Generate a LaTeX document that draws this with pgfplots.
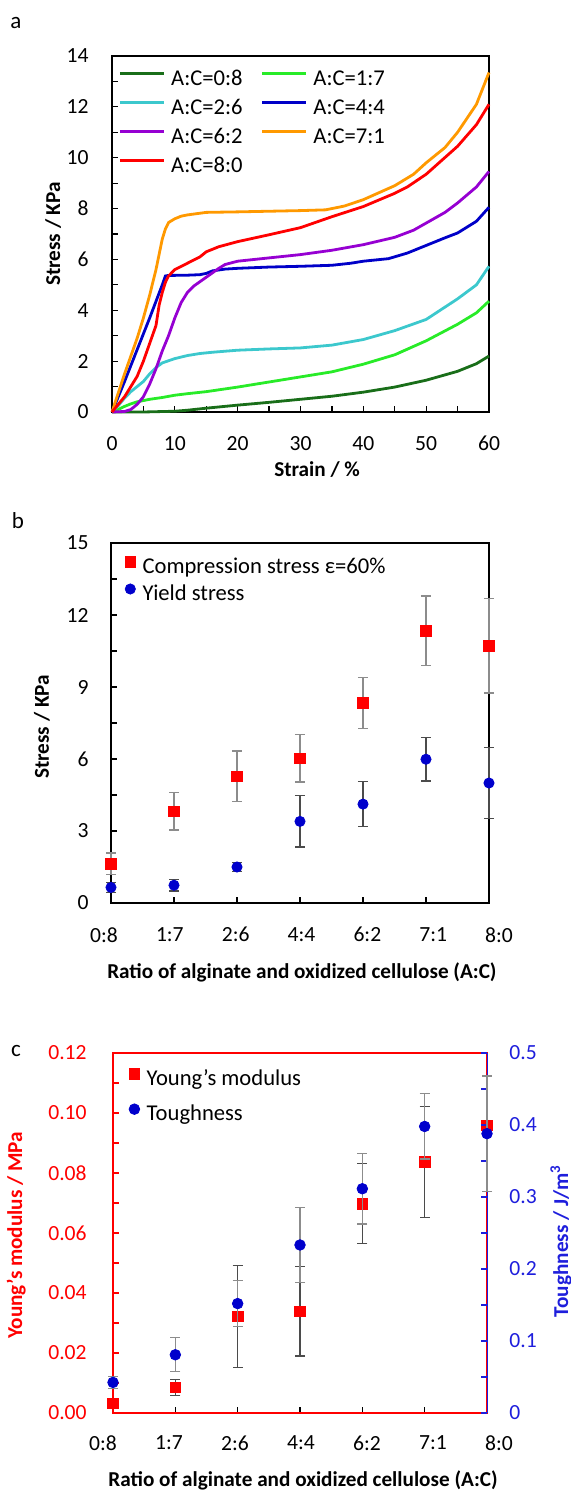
\documentclass[border=0pt]{standalone}
\usepackage{fontspec}
\setmainfont{Carlito}
\usepackage{pgfplots}
\pgfplotsset{compat=1.18}
\definecolor{cdg}{RGB}{25,110,25}
\definecolor{cg}{RGB}{40,235,40}
\definecolor{cc}{RGB}{60,200,205}
\definecolor{cb}{RGB}{0,0,200}
\definecolor{cp}{RGB}{150,0,210}
\definecolor{co}{RGB}{255,153,0}
\definecolor{cr}{RGB}{255,0,0}
\definecolor{mblue}{RGB}{0,0,204}
\definecolor{elight}{RGB}{140,140,140}
\definecolor{edark}{RGB}{75,75,75}
\definecolor{tblue}{RGB}{30,30,220}
\newcommand{\tickfont}{\fontsize{10.8}{13}\selectfont}
\newcommand{\labfont}{\fontsize{10.6}{13}\selectfont\bfseries}
\newcommand{\legfont}{\fontsize{11.3}{13.5}\selectfont}
\pgfplotsset{
  every axis/.append style={
    scale only axis, clip=false,
    /pgf/number format/assume math mode=true,
    tick label style={font=\tickfont},
    label style={font=\labfont},
    axis line style={line width=0.7pt},
    tick style={line width=0.6pt, black},
    major tick length=2.8pt, minor tick length=2.8pt,
    tick align=inside,
    xtick pos=left, ytick pos=left,
  },
}
\begin{document}
\begin{tikzpicture}
\useasboundingbox (0,0) rectangle (285.5pt,-745.5pt);
\node[font=\fontsize{11.5}{13}\selectfont] at (8pt,-11.5pt) {a};
\node[font=\fontsize{11.5}{13}\selectfont] at (9pt,-260.5pt) {b};
\node[font=\fontsize{11.5}{13}\selectfont] at (8pt,-525.5pt) {c};
% ---------------- panel a
\begin{axis}[at={(56pt,-206pt)}, anchor=south west, width=188.5pt, height=178pt,
  xmin=0, xmax=60, ymin=0, ymax=14,
  xtick={0,10,20,30,40,50,60}, ytick={0,2,4,6,8,10,12,14}, minor tick num=1,
  xticklabel style={anchor=north, inner sep=0pt, yshift=-12pt},
  yticklabel style={anchor=east, inner sep=0pt, xshift=-11.5pt},
  xlabel={Strain / \%}, ylabel={Stress / KPa},
  xlabel style={at={(axis description cs:0.544,-0.163)}, anchor=center},
  ylabel style={at={(axis description cs:-0.156,0.5)}, anchor=center},
  legend columns=2, legend cell align=left,
  legend image code/.code={\draw[#1] (0pt,3.5pt) -- (22pt,3.5pt);},
  legend style={draw=none, fill=none, at={(axis description cs:0.016,0.966)}, anchor=north west,
    font=\legfont, inner sep=0pt, row sep=2.5pt,
    nodes={inner sep=1pt, text height=7.5pt, text depth=2.5pt},
    /tikz/every odd column/.append style={column sep=2pt},
    /tikz/every even column/.append style={column sep=8pt}},
  every axis plot/.append style={line width=1.4pt},
]
\addplot[color=cdg] coordinates {(0,0) (5,0.0) (10,0.03) (12,0.07) (15,0.15) (20,0.27) (25,0.38) (30,0.5) (35,0.62) (40,0.78) (45,0.98) (50,1.25) (55,1.6) (58,1.9) (60,2.2)};
\addlegendentry{A:C=0:8}
\addplot[color=cg] coordinates {(0,0) (1,0.1) (2,0.22) (3,0.32) (4,0.4) (6,0.5) (8,0.57) (10,0.66) (12,0.72) (15,0.8) (20,0.98) (25,1.18) (30,1.38) (35,1.58) (40,1.88) (45,2.25) (50,2.8) (55,3.45) (58,3.9) (60,4.36)};
\addlegendentry{A:C=1:7}
\addplot[color=cc] coordinates {(0,0) (1,0.25) (2,0.55) (3,0.8) (4,1.0) (5,1.2) (6,1.5) (7,1.75) (8,1.93) (10,2.1) (12,2.22) (14,2.3) (16,2.35) (20,2.43) (25,2.48) (30,2.52) (35,2.63) (40,2.85) (45,3.2) (50,3.64) (55,4.45) (58,5.0) (60,5.73)};
\addlegendentry{A:C=2:6}
\addplot[color=cb] coordinates {(0,0) (2,1.2) (4,2.45) (6,3.7) (7,4.35) (8,5.0) (8.5,5.35) (9,5.37) (12,5.38) (14,5.4) (15,5.45) (16,5.55) (18,5.62) (20,5.65) (25,5.7) (30,5.73) (35,5.77) (38,5.85) (40,5.93) (44,6.03) (47,6.25) (50,6.55) (53,6.85) (55,7.04) (58,7.5) (60,8.05)};
\addlegendentry{A:C=4:4}
\addplot[color=cp] coordinates {(0,0) (2,0.02) (3,0.1) (4,0.3) (5,0.6) (6,1.1) (7,1.7) (8,2.4) (9,3.0) (10,3.7) (11,4.3) (12,4.7) (13,4.95) (15,5.3) (17,5.65) (18,5.8) (20,5.93) (25,6.06) (30,6.19) (35,6.36) (40,6.58) (45,6.87) (48,7.15) (50,7.43) (53,7.85) (55,8.22) (58,8.85) (60,9.46)};
\addlegendentry{A:C=6:2}
\addplot[color=co] coordinates {(0,0) (2,1.5) (4,2.9) (5,3.7) (6,4.6) (7,5.6) (7.5,6.2) (8,6.8) (8.5,7.2) (9,7.45) (10,7.6) (11,7.7) (12,7.75) (15,7.85) (20,7.87) (30,7.92) (34,7.95) (37,8.1) (40,8.35) (45,8.9) (48,9.35) (50,9.8) (53,10.4) (55,11.0) (58,12.1) (60,13.35)};
\addlegendentry{A:C=7:1}
\addplot[color=cr] coordinates {(0,0) (2,0.6) (3,1.0) (4,1.4) (5,2.0) (6,2.7) (7,3.4) (7.5,4.2) (8,4.7) (8.5,5.1) (9,5.35) (10,5.6) (12,5.85) (14,6.1) (15,6.3) (17,6.5) (20,6.7) (25,6.97) (30,7.25) (35,7.68) (40,8.08) (45,8.6) (47,8.85) (50,9.35) (55,10.45) (58,11.3) (60,12.1)};
\addlegendentry{A:C=8:0}
\end{axis}
% ---------------- panel b
\begin{axis}[at={(55.5pt,-451.5pt)}, anchor=south west, width=189pt, height=180pt,
  xmin=0, xmax=6, ymin=0, ymax=15,
  xtick={0,1,2,3,4,5,6}, xticklabels={0:8,1:7,2:6,4:4,6:2,7:1,8:0},
  ytick={0,3,6,9,12,15}, minor y tick num=1,
  xticklabel style={anchor=north, inner sep=0pt, yshift=-12pt, xshift=-3.5pt+1.42pt*\ticknum},
  yticklabel style={anchor=east, inner sep=0pt, xshift=-11pt},
  xlabel={Ratio of alginate and oxidized cellulose (A:C)}, ylabel={Stress / KPa},
  xlabel style={at={(axis description cs:0.505,-0.194)}, anchor=center},
  ylabel style={at={(axis description cs:-0.183,0.489)}, anchor=center},
  legend cell align=left,
  legend image code/.code={\draw[#1] plot coordinates {(0pt,3pt)};},
  legend style={draw=none, fill=none, at={(axis description cs:0.036,0.965)}, anchor=north west,
    font=\legfont, inner sep=0pt, row sep=1.5pt,
    nodes={inner sep=1pt, text height=7.5pt, text depth=2.5pt},
    /tikz/every odd column/.append style={column sep=2.5pt}},
]
\addplot[only marks, mark=square*, mark size=2.65pt, color=cr,
  error bars/.cd, y dir=both, y explicit,
  error bar style={color=elight, line width=0.6pt},
  error mark options={rotate=90, mark size=2.5pt, color=elight, line width=0.6pt}]
  table[x=x, y=y, y error=e] {
x y e
0 1.63 0.45
1 3.82 0.78
2 5.28 1.05
3 6.03 0.99
4 8.33 1.06
5 11.35 1.44
6 10.72 1.97
};
\addlegendentry{Compression stress ε=60\%}
\addplot[only marks, mark=*, mark size=2.55pt, color=mblue,
  error bars/.cd, y dir=both, y explicit,
  error bar style={color=edark, line width=0.6pt},
  error mark options={rotate=90, mark size=2.5pt, color=edark, line width=0.6pt}]
  table[x=x, y=y, y error=e] {
x y e
0 0.65 0.2
1 0.74 0.24
2 1.5 0.19
3 3.4 1.07
4 4.12 0.93
5 5.99 0.91
6 5.0 1.47
};
\addlegendentry{Yield stress}
\end{axis}
% ---------------- panel c (left axis)
\begin{axis}[at={(56.5pt,-706.5pt)}, anchor=south west, width=187pt, height=180pt,
  xmin=0, xmax=6, ymin=0, ymax=0.12,
  xtick={0,1,2,3,4,5,6}, xticklabels={0:8,1:7,2:6,4:4,6:2,7:1,8:0},
  ytick={0,0.02,0.04,0.06,0.08,0.1,0.12}, yticklabels={0.00,0.02,0.04,0.06,0.08,0.10,0.12},
  minor y tick num=1, scaled y ticks=false,
  y axis line style={draw=cr}, y tick style={color=cr},
  xticklabel style={anchor=north, inner sep=0pt, yshift=-11pt, xshift=-5pt+1.83pt*\ticknum},
  yticklabel style={anchor=east, inner sep=0pt, xshift=-13pt, text=cr},
  xlabel={Ratio of alginate and oxidized cellulose (A:C)}, ylabel={Young’s modulus / MPa},
  xlabel style={at={(axis description cs:0.508,-0.186)}, anchor=center},
  ylabel style={at={(axis description cs:-0.259,0.494)}, anchor=center, text=cr},
  legend cell align=left,
  legend image code/.code={\draw[#1] plot coordinates {(0pt,3pt)};},
  legend style={draw=none, fill=none, at={(axis description cs:0.042,0.959)}, anchor=north west,
    font=\legfont, inner sep=0pt, row sep=5.5pt,
    nodes={inner sep=1pt, text height=7.5pt, text depth=2.5pt},
    /tikz/every odd column/.append style={column sep=2.5pt}},
]
\addplot[only marks, mark=square*, mark size=2.65pt, color=cr,
  error bars/.cd, y dir=both, y explicit,
  error bar style={color=edark, line width=0.6pt},
  error mark options={rotate=90, mark size=2.5pt, color=edark, line width=0.6pt}]
  table[x=x, y=y, y error=e] {
x y e
0 0.0032 0
1 0.0085 0.0026
2 0.0322 0.017
3 0.0339 0.0149
4 0.0698 0.0133
5 0.0838 0.0185
6 0.0959 0
};
\addlegendentry{Young's modulus}
\addlegendimage{only marks, mark=*, mark size=2.65pt, color=mblue}
\addlegendentry{Toughness}
\end{axis}
% ---------------- panel c (right axis)
\begin{axis}[at={(56.5pt,-706.5pt)}, anchor=south west, width=187pt, height=180pt,
  xmin=0, xmax=6, ymin=0, ymax=0.5,
  axis x line=none, axis y line*=right, ytick pos=right, tick align=inside,
  ytick={0,0.1,0.2,0.3,0.4,0.5}, yticklabels={0,0.1,0.2,0.3,0.4,0.5},
  minor y tick num=1, scaled y ticks=false,
  y axis line style={draw=tblue, line width=0.5pt}, y tick style={color=tblue},
  yticklabel style={anchor=west, inner sep=0pt, xshift=11pt, text=tblue},
  ylabel={Toughness / J/m\textsuperscript{3}},
  ylabel style={at={(axis description cs:1.198,0.478)}, anchor=center, rotate=0, text=tblue},
]
\addplot[only marks, mark=*, mark size=2.65pt, color=mblue,
  error bars/.cd, y dir=both, y explicit,
  error bar style={color=elight, line width=0.6pt},
  error mark options={rotate=90, mark size=2.5pt, color=elight, line width=0.6pt}]
  table[x=x, y=y, y error=e] {
x y e
0 0.0425 0.008
1 0.0809 0.0236
2 0.152 0.0323
3 0.2334 0.0525
4 0.3115 0.049
5 0.398 0.0453
6 0.388 0.08
};
\end{axis}
\end{tikzpicture}
\end{document}
